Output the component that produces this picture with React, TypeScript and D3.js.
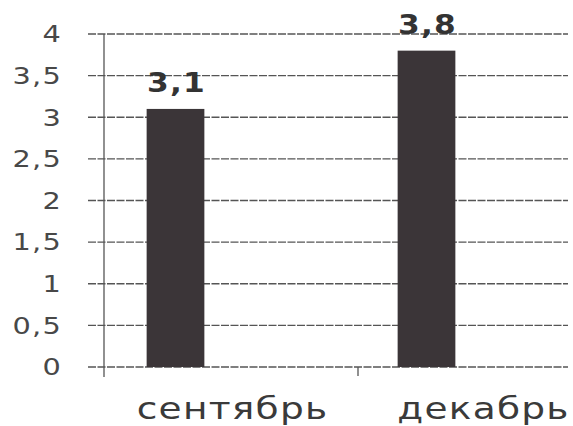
import React from "react";
import * as d3 from "d3";

const categories = ["сентябрь", "декабрь"];
const values = [3.1, 3.8];
const valueLabels = ["3,1", "3,8"];
const yTicks = [0, 0.5, 1, 1.5, 2, 2.5, 3, 3.5, 4];
const yTickLabels = ["0", "0,5", "1", "1,5", "2", "2,5", "3", "3,5", "4"];

const W = 573;
const H = 426;

export default function App() {
  const y = d3.scaleLinear().domain([0, 4]).range([367, 34]);
  const x = d3
    .scaleBand<string>()
    .domain(categories)
    .range([50, 552])
    .paddingInner(0.77)
    .paddingOuter(0.385);
  const axisX = 104;
  const gridX0 = 88;
  const gridX1 = 568;
  const divider = 358;

  return (
    <svg
      width={W}
      height={H}
      style={{ position: "absolute", left: 0, top: 0, background: "#fff" }}
      fontFamily="DejaVu Sans, Verdana, sans-serif"
    >
      <rect width={W} height={H} fill="#fff" />
      {yTicks.map((t, i) => (
        <g key={t}>
          <line
            x1={gridX0}
            x2={gridX1}
            y1={y(t)}
            y2={y(t)}
            stroke="#555"
            strokeWidth={1.3}
            strokeDasharray="8 1.5"
          />
          <text
            transform={`translate(62,${y(t)}) scale(1.25,1)`}
            dy="0.36em"
            textAnchor="end"
            fontSize={23}
            letterSpacing={1}
            fill="#484848"
          >
            {yTickLabels[i]}
          </text>
        </g>
      ))}
      <line x1={axisX} x2={axisX} y1={y(4)} y2={377} stroke="#555" strokeWidth={1.3} />
      <line x1={divider} x2={divider} y1={y(0)} y2={376} stroke="#555" strokeWidth={1.3} />
      {categories.map((c, i) => {
        const bx = x(c)!;
        const bw = x.bandwidth();
        return (
          <g key={c}>
            <rect
              x={bx}
              y={y(values[i])}
              width={bw}
              height={y(0) - y(values[i])}
              fill="#3b3538"
            />
            <text
              transform={`translate(${bx + bw / 2 + 1},${y(values[i]) - 17}) scale(1.2,1)`}
              textAnchor="middle"
              fontSize={26}
              fontWeight="bold"
              letterSpacing={1}
              fill="#333"
            >
              {valueLabels[i]}
            </text>
            <text
              transform={`translate(${bx + bw / 2 + 57},419) scale(1.25,1)`}
              textAnchor="middle"
              fontSize={30}
              letterSpacing={1}
              fill="#3a3a3a"
            >
              {c}
            </text>
          </g>
        );
      })}
    </svg>
  );
}
